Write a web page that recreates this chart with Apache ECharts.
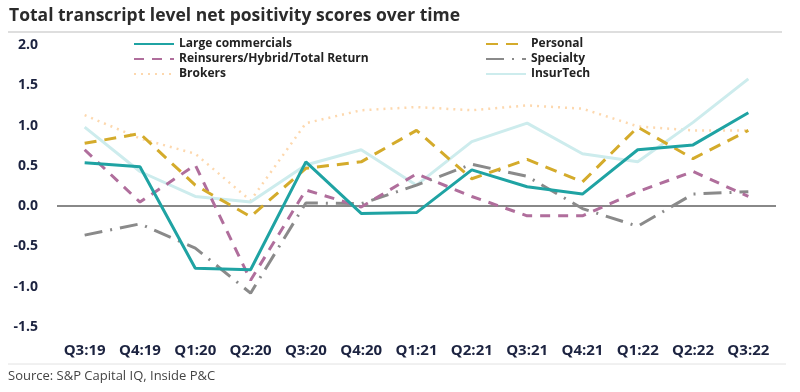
<!DOCTYPE html>
<html><head><meta charset="utf-8">
<script src="https://cdn.jsdelivr.net/npm/echarts@6/dist/echarts.min.js"></script>
<style>html,body{margin:0;padding:0;background:#fff}#c{width:800px;height:392px}</style>
</head><body><div id="c"></div>
<script>
const categories = ["Q3:19","Q4:19","Q1:20","Q2:20","Q3:20","Q4:20","Q1:21","Q2:21","Q3:21","Q4:21","Q1:22","Q2:22","Q3:22"];
const largeCommercials = [0.54,0.49,-0.77,-0.79,0.55,-0.09,-0.08,0.45,0.24,0.15,0.70,0.76,1.16];
const personal = [0.78,0.90,0.26,-0.13,0.47,0.55,0.94,0.34,0.58,0.30,0.98,0.59,0.94];
const reinsurers = [0.70,0.05,0.51,-0.92,0.20,-0.01,0.40,0.12,-0.12,-0.12,0.18,0.43,0.12];
const specialty = [-0.36,-0.22,-0.52,-1.08,0.04,0.03,0.26,0.52,0.37,-0.03,-0.25,0.15,0.18];
const brokers = [1.13,0.84,0.65,0.07,1.03,1.19,1.23,1.19,1.25,1.21,0.99,0.94,0.94];
const insurTech = [0.98,0.43,0.12,0.05,0.51,0.70,0.26,0.80,1.03,0.65,0.55,1.04,1.58];
const yTicks = [-1.5,-1.0,-0.5,0.0,0.5,1.0,1.5,2.0];

const chart = echarts.init(document.getElementById('c'));
function ser(name, data, color, width, type, z){
  return {name, type:'line', data, symbol:'none', showSymbol:false, smooth:false, z,
    lineStyle:{color, width, type, cap:'butt'}, itemStyle:{color}};
}
const series = [
  ser('Large commercials', largeCommercials, '#1fa3a3', 3, 'solid', 10),
  ser('Reinsurers/Hybrid/Total Return', reinsurers, '#b06e9c', 3, [10,8], 8),
  ser('Brokers', brokers, '#fdd8ae', 2.5, [2,5], 5),
  ser('Personal', personal, '#d4ab2b', 3, [12,8], 9),
  ser('Specialty', specialty, '#8a8a8a', 3, [18,8,2,8], 7),
  ser('InsurTech', insurTech, '#cdeced', 3, 'solid', 6)
];
series[0].markLine = {silent:true, symbol:'none', label:{show:false},
  lineStyle:{color:'#888888', width:2, type:'solid'}, data:[{yAxis:0}], z:1};
const legendText = {fontFamily:'Open Sans', fontWeight:'bold', fontSize:12, color:'#222'};
const legendCommon = {orient:'vertical', top:33, itemWidth:40, itemHeight:12, itemGap:3,
  textStyle:legendText, selectedMode:false, itemStyle:{opacity:0}};
chart.setOption({
  animation:false,
  title:{text:'Total transcript level net positivity scores over time', left:4, top:2,
    textStyle:{fontFamily:'Open Sans', fontWeight:'bold', fontSize:17.5, color:'#2b2b2b'}},
  legend:[
    Object.assign({data:['Large commercials','Reinsurers/Hybrid/Total Return','Brokers'], left:128}, legendCommon),
    Object.assign({data:['Personal','Specialty','InsurTech'], left:480}, legendCommon)
  ],
  grid:{left:57, right:24, top:45, bottom:65, containLabel:false},
  xAxis:{type:'category', data:categories, boundaryGap:true,
    axisLine:{show:false}, axisTick:{show:false},
    axisLabel:{margin:16, fontFamily:'Open Sans', fontWeight:'bold', fontSize:15, color:'#1c2340'}},
  yAxis:{type:'value', min:-1.5, max:2.0, interval:0.5,
    axisLine:{show:false}, axisTick:{show:false}, splitLine:{show:false},
    axisLabel:{margin:19, fontFamily:'Open Sans', fontWeight:'bold', fontSize:14, color:'#1c2340',
      formatter:v=>v.toFixed(1)}},
  graphic:[
    {type:'line', shape:{x1:8,y1:32,x2:782,y2:32}, style:{stroke:'#bdbdbd', lineWidth:1}},
    {type:'line', shape:{x1:8,y1:364,x2:786,y2:364}, style:{stroke:'#e2e2e2', lineWidth:1}},
    {type:'text', left:8, top:370, style:{text:'Source: S&P Capital IQ, Inside P&C',
      font:'13px "Open Sans", sans-serif', fill:'#444'}}
  ],
  series
});
</script></body></html>
